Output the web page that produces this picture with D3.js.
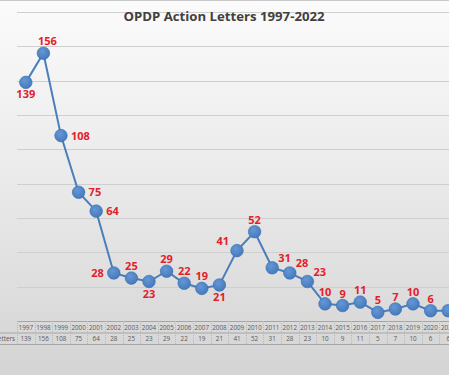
<!DOCTYPE html>
<html>
<head>
<meta charset="utf-8">
<script src="https://cdn.jsdelivr.net/npm/d3@7/dist/d3.min.js"></script>
<style>
html,body{margin:0;padding:0;overflow:hidden;background:#fff;}
svg{display:block;}
</style>
</head>
<body>
<div id="chart"></div>
<script>
const years = ["1997","1998","1999","2000","2001","2002","2003","2004","2005","2006","2007","2008","2009","2010","2011","2012","2013","2014","2015","2016","2017","2018","2019","2020","2021","2022"];
const letters = [139,156,108,75,64,28,25,23,29,22,19,21,41,52,31,28,23,10,9,11,5,7,10,6,6,4];
// label placement for each point: a=above, b=below, l=left, r=right, ar=above-right, al=above-left
const labelPos = ["b","a","r","r","r","l","a","b","a","a","a","b","al","a","ar","ar","ar","a","a","a","a","a","a","a","r","r"];
const yTicks = [0,20,40,60,80,100,120,140,160,180];
const title = "OPDP Action Letters 1997-2022";
const seriesName = "Letters";

const W = 449, H = 375;
const svg = d3.select("#chart").append("svg").attr("width", W).attr("height", H);

const defs = svg.append("defs");
const bg = defs.append("linearGradient").attr("id","bg").attr("x1",0).attr("y1",0).attr("x2",0).attr("y2",1);
bg.append("stop").attr("offset","0%").attr("stop-color","#fbfbfb");
bg.append("stop").attr("offset","45%").attr("stop-color","#ebebeb");
bg.append("stop").attr("offset","100%").attr("stop-color","#d4d4d4");
const mk = defs.append("radialGradient").attr("id","mk").attr("cx","40%").attr("cy","35%").attr("r","70%");
mk.append("stop").attr("offset","0%").attr("stop-color","#6497d6");
mk.append("stop").attr("offset","100%").attr("stop-color","#4378ba");

svg.append("rect").attr("x",0).attr("y",0).attr("width",W).attr("height",H).attr("fill","url(#bg)");
svg.append("line").attr("x1",0).attr("x2",W).attr("y1",0.5).attr("y2",0.5).attr("stroke","#c8c8c8");

const x = d3.scaleBand().domain(years).range([17, 17 + years.length * 17.6]).padding(0);
const y = d3.scaleLinear().domain([0, 180]).range([321, 12]);

// gridlines
svg.append("g").selectAll("line").data(yTicks.filter(t => t > 0)).join("line")
  .attr("x1", 17).attr("x2", W)
  .attr("y1", d => Math.round(y(d)) + 0.5).attr("y2", d => Math.round(y(d)) + 0.5)
  .attr("stroke", "#cfcfcf").attr("stroke-width", 1);

// title
svg.append("text").attr("x", 224).attr("y", 21).attr("text-anchor","middle")
  .attr("font-family","'Open Sans', sans-serif").attr("font-weight","bold").attr("font-size","13.2px")
  .attr("fill","#404040").text(title);

// data table
const rowTop = 321, rowH = 11.5;
const tbl = svg.append("g");
const xs = x.range();
tbl.append("line").attr("x1", xs[0]).attr("x2", xs[1]).attr("y1", rowTop+0.5).attr("y2", rowTop+0.5).attr("stroke","#a6a6a6");
tbl.append("line").attr("x1", 0).attr("x2", xs[1]).attr("y1", rowTop+rowH+0.5).attr("y2", rowTop+rowH+0.5).attr("stroke","#a6a6a6");
tbl.append("line").attr("x1", 0).attr("x2", xs[1]).attr("y1", rowTop+2*rowH+0.5).attr("y2", rowTop+2*rowH+0.5).attr("stroke","#a6a6a6");
tbl.selectAll("line.v").data(years).join("line").attr("class","v")
  .attr("x1", d => Math.round(x(d))+0.5).attr("x2", d => Math.round(x(d))+0.5)
  .attr("y1", rowTop).attr("y2", rowTop+2*rowH)
  .attr("stroke","#b8b8b8").attr("stroke-dasharray","1,1");
tbl.selectAll("text.yr").data(years).join("text").attr("class","yr")
  .attr("x", d => x(d) + x.bandwidth()/2).attr("y", rowTop + 8.5)
  .attr("text-anchor","middle").attr("font-family","'Open Sans', sans-serif").attr("font-size","6.3px")
  .attr("fill","#595959").text(d => d);
tbl.selectAll("text.val").data(letters).join("text").attr("class","val")
  .attr("x", (d,i) => x(years[i]) + x.bandwidth()/2).attr("y", rowTop + rowH + 8.5)
  .attr("text-anchor","middle").attr("font-family","'Open Sans', sans-serif").attr("font-size","6.3px")
  .attr("fill","#595959").text(d => d);
tbl.append("text").attr("x", 15).attr("y", rowTop + rowH + 8.5).attr("text-anchor","end")
  .attr("font-family","'Open Sans', sans-serif").attr("font-size","6.3px").attr("fill","#595959").text(seriesName);

// line
const cx = i => x(years[i]) + x.bandwidth()/2;
const line = d3.line().x((d,i) => cx(i)).y(d => y(d));
svg.append("path").datum(letters).attr("d", line).attr("fill","none")
  .attr("stroke","#4a7ebb").attr("stroke-width",2);

svg.append("g").selectAll("circle").data(letters).join("circle")
  .attr("cx", (d,i) => cx(i)).attr("cy", d => y(d)).attr("r", 6.3)
  .attr("fill","url(#mk)").attr("stroke","#3d6fae").attr("stroke-width",0.6);

// labels
const off = {a:[0,-8], b:[0,16], l:[-10,4], r:[10,4], ar:[6,-6], al:[-8,-6]};
svg.append("g").selectAll("text").data(letters).join("text")
  .attr("x", (d,i) => cx(i) + off[labelPos[i]][0] + (i === 1 ? 4 : 0))
  .attr("y", (d,i) => y(d) + off[labelPos[i]][1])
  .attr("text-anchor", (d,i) => ({l:"end", r:"start", ar:"start", al:"end"}[labelPos[i]] || "middle"))
  .attr("font-family","'Open Sans', sans-serif").attr("font-weight","bold").attr("font-size","11px")
  .attr("fill","#e3202a").text(d => d);
</script>
</body>
</html>
